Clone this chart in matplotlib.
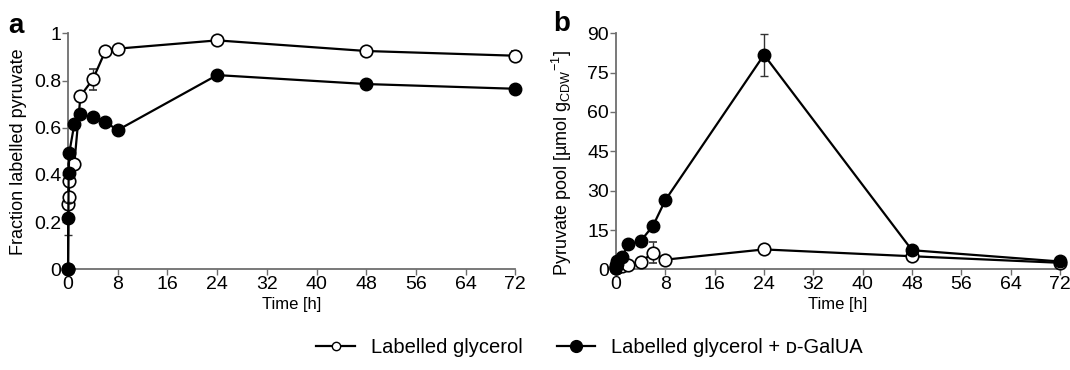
import matplotlib
matplotlib.use('Agg')
import matplotlib.pyplot as plt
from matplotlib.lines import Line2D

plt.rcParams['font.family'] = ['Liberation Sans', 'DejaVu Sans']

# 시간 [h]
time_h = [0, 0.05, 0.1, 0.2, 1, 2, 4, 6, 8, 24, 48, 72]

# a: fraction labelled pyruvate
frac_gly = [0, 0.277, 0.308, 0.374, 0.445, 0.735, 0.805, 0.925, 0.935, 0.97, 0.925, 0.905]
frac_gly_err = [0, 0, 0, 0, 0, 0, 0.045, 0, 0, 0, 0, 0.02]
frac_galua = [0, 0.216, 0.41, 0.494, 0.614, 0.657, 0.644, 0.624, 0.59, 0.823, 0.785, 0.765]
frac_galua_err = [0, 0.07, 0, 0, 0, 0, 0, 0, 0, 0, 0, 0]

# b: pyruvate pool
pool_gly = [0.5, 0.6, 0.8, 1.0, 1.2, 1.6, 2.7, 6.4, 3.7, 7.6, 5.0, 2.5]
pool_gly_err = [0, 0, 0, 0, 0, 0, 0, 4.0, 0, 0, 0, 0]
pool_galua = [1.0, 1.5, 2.2, 3.2, 4.9, 9.5, 10.8, 16.6, 26.4, 81.8, 7.3, 3.0]
pool_galua_err = [0, 0, 0, 0, 0, 0, 0, 0, 0, 8.0, 0, 0]

x_ticks = list(range(0, 73, 8))
spine_col = '#6e6e6e'

fig = plt.figure(figsize=(10.7, 3.7), dpi=100)
ax_a = fig.add_axes([0.0636, 0.272, 0.418, 0.638])
ax_b = fig.add_axes([0.5757, 0.272, 0.415, 0.638])


def draw(ax, y_open, e_open, y_fill, e_fill):
    # 흰 원 먼저, 검은 원을 위에
    ax.errorbar(time_h, y_open, yerr=e_open, color='black', lw=1.6, marker='o',
                ms=9, mfc='white', mec='black', mew=1.2, ecolor='#333333',
                elinewidth=1, capsize=3, capthick=1, clip_on=False, zorder=3)
    ax.errorbar(time_h, y_fill, yerr=e_fill, color='black', lw=1.6, marker='o',
                ms=9, mfc='black', mec='black', ecolor='#333333', elinewidth=1,
                capsize=3, capthick=1, clip_on=False, zorder=4)
    for s in ['top', 'right']:
        ax.spines[s].set_visible(False)
    for s in ['left', 'bottom']:
        ax.spines[s].set_color(spine_col)
        ax.spines[s].set_linewidth(1.3)
    ax.tick_params(direction='out', length=4, width=1, color=spine_col,
                   labelsize=14, pad=1)
    ax.set_xlim(0, 72)
    ax.set_xticks(x_ticks)
    ax.set_xlabel('Time [h]', fontsize=12)
    ax.xaxis.set_label_coords(0.5, -0.115)


draw(ax_a, frac_gly, frac_gly_err, frac_galua, frac_galua_err)
ax_a.set_ylim(0, 1)
ax_a.set_yticks([0, 0.2, 0.4, 0.6, 0.8, 1])
ax_a.set_yticklabels(['0', '0.2', '0.4', '0.6', '0.8', '1'])
ax_a.set_ylabel('Fraction labelled pyruvate', fontsize=13)
ax_a.yaxis.set_label_coords(-0.092, 0.5)

draw(ax_b, pool_gly, pool_gly_err, pool_galua, pool_galua_err)
ax_b.set_ylim(0, 90)
ax_b.set_yticks(range(0, 91, 15))
ax_b.set_ylabel(r'Pyruvate pool [µmol g$_{\mathregular{CDW}}$$^{\mathregular{-1}}$]',
                fontsize=13)
ax_b.yaxis.set_label_coords(-0.094, 0.45)

fig.text(0.008, 0.93, 'a', fontsize=20, fontweight='bold', va='center')
fig.text(0.517, 0.935, 'b', fontsize=20, fontweight='bold', va='center')

handles = [
    Line2D([], [], color='black', lw=1.6, marker='o', ms=6, mfc='white', mec='black'),
    Line2D([], [], color='black', lw=1.6, marker='o', ms=8.5, mfc='black', mec='black'),
]
labels = ['Labelled glycerol', 'Labelled glycerol + \u1d05-GalUA']
fig.legend(handles, labels, loc='lower center', bbox_to_anchor=(0.551, -0.015), ncol=2,
           frameon=False, fontsize=14.5, handlelength=1.9, columnspacing=1.7,
           handletextpad=0.8)

fig.savefig('out.png', dpi=100)
